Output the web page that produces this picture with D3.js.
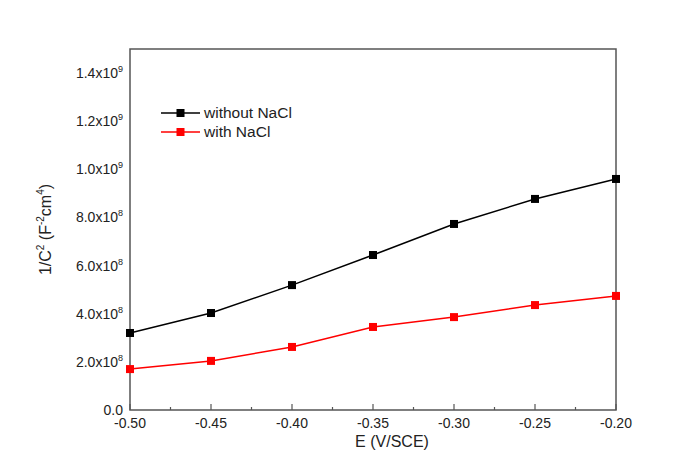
<!DOCTYPE html>
<html>
<head>
<meta charset="utf-8">
<script src="https://cdn.jsdelivr.net/npm/d3@7"></script>
<style>
  body { margin: 0; background: #fff; }
  text { font-family: "Liberation Sans", Arial, sans-serif; fill: #222; }
</style>
</head>
<body>
<div id="chart"></div>
<script>
const potentials = [-0.5, -0.45, -0.4, -0.35, -0.3, -0.25, -0.2];
const withoutNaCl = [3.2e8, 4.03e8, 5.19e8, 6.44e8, 7.73e8, 8.77e8, 9.6e8];
const withNaCl = [1.7e8, 2.04e8, 2.62e8, 3.45e8, 3.86e8, 4.36e8, 4.74e8];
const seriesNames = ["without NaCl", "with NaCl"];
const yTicks = [
  { v: 0, base: "0.0", exp: "" },
  { v: 2e8, base: "2.0x10", exp: "8" },
  { v: 4e8, base: "4.0x10", exp: "8" },
  { v: 6e8, base: "6.0x10", exp: "8" },
  { v: 8e8, base: "8.0x10", exp: "8" },
  { v: 1e9, base: "1.0x10", exp: "9" },
  { v: 1.2e9, base: "1.2x10", exp: "9" },
  { v: 1.4e9, base: "1.4x10", exp: "9" },
];

let w = 697;
let h = 452;
let marginLeft = 130, plotRight = 616, plotTop = 49, plotBottom = 410;

let x = d3.scaleLinear().domain([-0.5, -0.2]).range([marginLeft, plotRight]);
let y = d3.scaleLinear().domain([0, 1.5e9]).range([plotBottom, plotTop]);

let svg = d3.select("#chart").append("svg").attr("width", w).attr("height", h);
svg.append("rect").attr("width", w).attr("height", h).attr("fill", "#fff");

// frame
svg.append("rect")
  .attr("x", marginLeft).attr("y", plotTop)
  .attr("width", plotRight - marginLeft).attr("height", plotBottom - plotTop)
  .attr("fill", "none").attr("stroke", "#555").attr("stroke-width", 1.5);

// x ticks, pointing inward
let xMajor = d3.range(0, 7).map(i => -0.5 + i * 0.05);
let xMinor = d3.range(0, 6).map(i => -0.475 + i * 0.05);
svg.append("g").selectAll("line").data(xMajor).enter().append("line")
  .attr("x1", d => x(d)).attr("x2", d => x(d))
  .attr("y1", plotBottom).attr("y2", plotBottom - 6)
  .attr("stroke", "#555").attr("stroke-width", 1.2);
svg.append("g").selectAll("line").data(xMinor).enter().append("line")
  .attr("x1", d => x(d)).attr("x2", d => x(d))
  .attr("y1", plotBottom).attr("y2", plotBottom - 3)
  .attr("stroke", "#555").attr("stroke-width", 1.2);
svg.append("g").selectAll("text").data(xMajor).enter().append("text")
  .attr("x", d => x(d)).attr("y", plotBottom + 18)
  .attr("text-anchor", "middle").attr("font-size", 14)
  .text(d => d.toFixed(2));

// y tick labels
let yl = svg.append("g").selectAll("text").data(yTicks).enter().append("text")
  .attr("x", 123).attr("y", d => y(d.v) + 5)
  .attr("text-anchor", "end").attr("font-size", 14);
yl.append("tspan").text(d => d.base);
yl.append("tspan").attr("dy", -6).attr("font-size", 9).text(d => d.exp);

// axis titles
svg.append("text").attr("x", 392).attr("y", 447)
  .attr("text-anchor", "middle").attr("font-size", 16).text("E (V/SCE)");
let yt = svg.append("text")
  .attr("transform", `translate(51,${(plotTop + plotBottom) / 2}) rotate(-90)`)
  .attr("text-anchor", "middle").attr("font-size", 16);
yt.append("tspan").text("1/C");
yt.append("tspan").attr("dy", -7).attr("font-size", 10).text("2");
yt.append("tspan").attr("dy", 7).text(" (F");
yt.append("tspan").attr("dy", -7).attr("font-size", 10).text("-2");
yt.append("tspan").attr("dy", 7).text("cm");
yt.append("tspan").attr("dy", -7).attr("font-size", 10).text("4");
yt.append("tspan").attr("dy", 7).text(")");

// series
let series = [
  { name: seriesNames[0], values: withoutNaCl, color: "#000" },
  { name: seriesNames[1], values: withNaCl, color: "#ff0000" },
];
let line = d3.line().x((d, i) => x(potentials[i])).y(d => y(d));
let ms = 8;
series.forEach(function (s, k) {
  svg.append("path").datum(s.values)
    .attr("d", line).attr("fill", "none")
    .attr("stroke", s.color).attr("stroke-width", 1.5);
  svg.append("g").selectAll("rect").data(s.values).enter().append("rect")
    .attr("x", (d, i) => x(potentials[i]) - ms / 2)
    .attr("y", d => y(d) - ms / 2)
    .attr("width", ms).attr("height", ms)
    .attr("fill", s.color);

  // legend
  let ly = 113 + k * 19;
  svg.append("line").attr("x1", 161).attr("x2", 200)
    .attr("y1", ly).attr("y2", ly)
    .attr("stroke", s.color).attr("stroke-width", 1.5);
  svg.append("rect").attr("x", 180.5 - ms / 2).attr("y", ly - ms / 2)
    .attr("width", ms).attr("height", ms).attr("fill", s.color);
  svg.append("text").attr("x", 204).attr("y", ly + 5)
    .attr("font-size", 15.5).text(s.name);
});
</script>
</body>
</html>
